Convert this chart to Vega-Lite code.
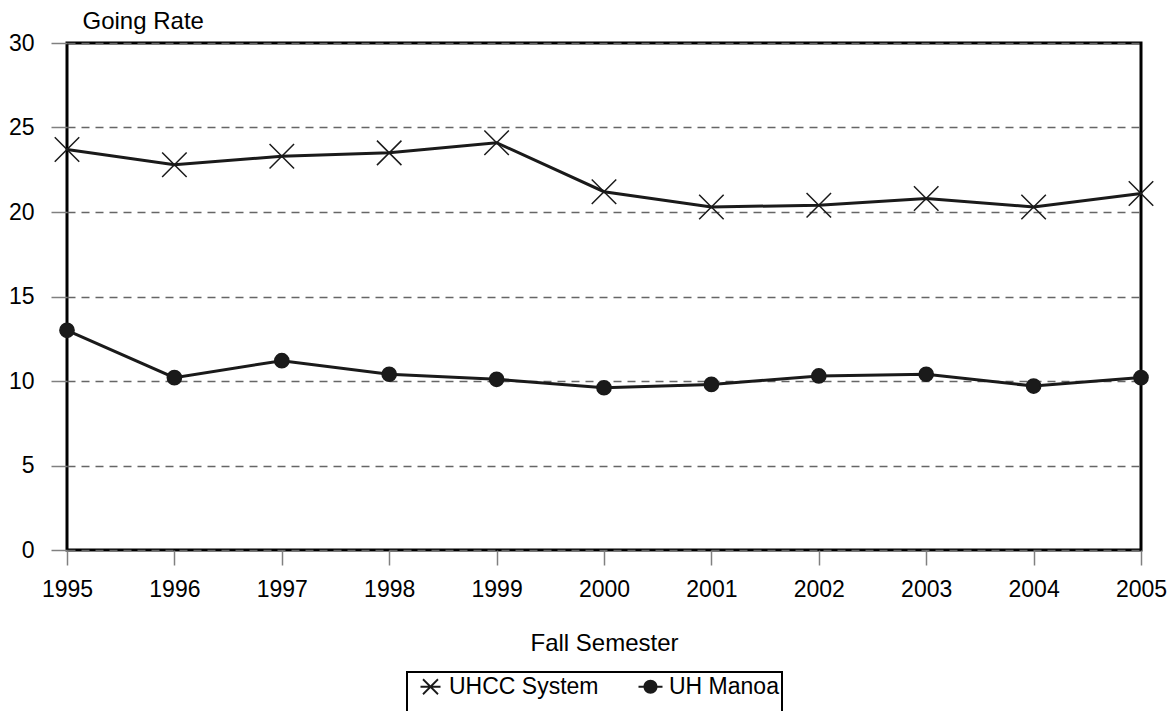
{
  "$schema": "https://vega.github.io/schema/vega-lite/v6.json",
  "autosize": "none",
  "width": 1074,
  "height": 507,
  "padding": {"left": 67, "top": 43, "right": 34, "bottom": 161},
  "background": "white",
  "config": {
    "font": "Liberation Sans",
    "view": {"stroke": "black", "strokeWidth": 3},
    "legend": {"strokeWidth": 2}
  },
  "data": {
    "values": [
      {"year": 1995, "series": "UHCC System", "rate": 23.7},
      {"year": 1996, "series": "UHCC System", "rate": 22.8},
      {"year": 1997, "series": "UHCC System", "rate": 23.3},
      {"year": 1998, "series": "UHCC System", "rate": 23.5},
      {"year": 1999, "series": "UHCC System", "rate": 24.1},
      {"year": 2000, "series": "UHCC System", "rate": 21.2},
      {"year": 2001, "series": "UHCC System", "rate": 20.3},
      {"year": 2002, "series": "UHCC System", "rate": 20.4},
      {"year": 2003, "series": "UHCC System", "rate": 20.8},
      {"year": 2004, "series": "UHCC System", "rate": 20.3},
      {"year": 2005, "series": "UHCC System", "rate": 21.1},
      {"year": 1995, "series": "UH Manoa", "rate": 13.0},
      {"year": 1996, "series": "UH Manoa", "rate": 10.2},
      {"year": 1997, "series": "UH Manoa", "rate": 11.2},
      {"year": 1998, "series": "UH Manoa", "rate": 10.4},
      {"year": 1999, "series": "UH Manoa", "rate": 10.1},
      {"year": 2000, "series": "UH Manoa", "rate": 9.6},
      {"year": 2001, "series": "UH Manoa", "rate": 9.8},
      {"year": 2002, "series": "UH Manoa", "rate": 10.3},
      {"year": 2003, "series": "UH Manoa", "rate": 10.4},
      {"year": 2004, "series": "UH Manoa", "rate": 9.7},
      {"year": 2005, "series": "UH Manoa", "rate": 10.2}
    ]
  },
  "encoding": {
    "x": {
      "field": "year", "type": "quantitative",
      "scale": {"domain": [1995, 2005], "nice": false, "zero": false},
      "axis": {
        "title": "Fall Semester", "titleFontSize": 24, "titleFontWeight": "normal", "titleColor": "black",
        "titleY": 100, "titleBaseline": "alphabetic",
        "format": "d", "values": [1995,1996,1997,1998,1999,2000,2001,2002,2003,2004,2005],
        "labelFontSize": 23, "labelColor": "black", "labelPadding": 13, "labelFlush": false,
        "tickSize": 15, "tickColor": "#808080", "tickWidth": 1.5,
        "domain": false, "grid": false
      }
    },
    "y": {
      "field": "rate", "type": "quantitative",
      "scale": {"domain": [0, 30], "nice": false},
      "axis": {
        "title": "Going Rate", "titleFontSize": 24, "titleFontWeight": "normal", "titleColor": "black",
        "titleAngle": 0, "titleX": 15, "titleY": -15, "titleAlign": "left", "titleBaseline": "alphabetic",
        "values": [0, 5, 10, 15, 20, 25, 30],
        "labelFontSize": 23, "labelColor": "black", "labelPadding": 17,
        "tickSize": 16, "tickColor": "#808080", "tickWidth": 1.5,
        "domain": false,
        "grid": true, "gridColor": "#666666", "gridDash": [8, 6], "gridWidth": 1.5
      }
    }
  },
  "layer": [
    {
      "mark": {"type": "line", "color": "#1a1a1a", "strokeWidth": 3},
      "encoding": {"detail": {"field": "series"}}
    },
    {
      "mark": {"type": "point", "fill": "#1a1a1a", "stroke": "#1a1a1a", "strokeWidth": 1.5, "opacity": 1, "fillOpacity": 1, "size": 600},
      "encoding": {
        "shape": {
          "field": "series", "type": "nominal",
          "scale": {"domain": ["UHCC System", "UH Manoa"], "range": ["M-1,-1L1,1M-1,1L1,-1", "M-0.58,0A0.58,0.58 0 1,0 0.58,0A0.58,0.58 0 1,0 -0.58,0Z"]},
          "legend": null
        }
      }
    },
    {
      "transform": [{"filter": "false"}],
      "mark": {"type": "point", "fill": "#1a1a1a", "stroke": "#1a1a1a", "strokeWidth": 1, "opacity": 1, "fillOpacity": 1},
      "encoding": {
        "shape": {
          "field": "series", "type": "nominal",
          "scale": {"domain": ["UHCC System", "UH Manoa"], "range": [
            "M0.086,-0.686L1.586,0.814L1.714,0.686L0.214,-0.814ZM0.214,0.814L1.714,-0.686L1.586,-0.814L0.086,0.686ZM-0.1,-0.09L-0.1,0.09L1.9,0.09L1.9,-0.09Z",
            "M0.2,0A0.7,0.7 0 1,0 1.6,0A0.7,0.7 0 1,0 0.2,0ZM-0.3,-0.09L-0.3,0.09L0.22,0.09L0.22,-0.09ZM1.58,-0.09L1.58,0.09L2.1,0.09L2.1,-0.09Z"
          ]},
          "legend": {
            "title": " ", "titleOrient": "bottom", "titleFontSize": 22, "titlePadding": 0,
            "orient": "none", "direction": "horizontal",
            "legendX": 340, "legendY": 629,
            "labelFontSize": 23, "labelColor": "black", "labelLimit": 300,
            "symbolSize": 400, "symbolFillColor": "#1a1a1a", "symbolStrokeColor": "#1a1a1a", "symbolStrokeWidth": 0.5,
            "columnPadding": 31, "labelOffset": 16,
            "strokeColor": "black", "fillColor": "white", "padding": 3,
            "encode": {
              "symbols": {
                "update": {
                  "fill": {"value": "#1a1a1a"},
                  "opacity": {"value": 1}
                }
              }
            }
          }
        }
      }
    }
  ],
  "resolve": {"scale": {"shape": "independent"}, "legend": {"shape": "independent"}}
}
